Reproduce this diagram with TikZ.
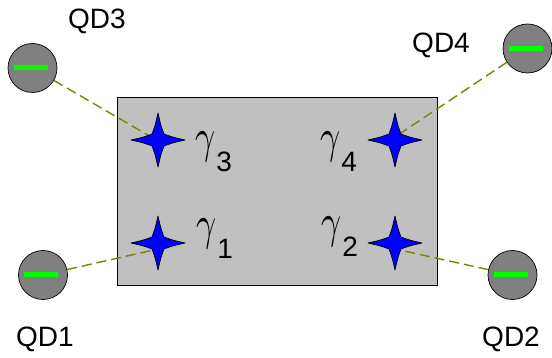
\documentclass[tikz,border=0pt]{standalone}
\usepackage{fontspec}
\setmainfont{Liberation Sans}
\definecolor{rectgray}{RGB}{192,192,192}
\definecolor{qdgray}{RGB}{128,128,128}
\definecolor{bargreen}{RGB}{0,255,0}
\definecolor{olive}{RGB}{128,128,0}
\definecolor{starblue}{RGB}{0,0,255}
\tikzset{
  qd/.style={circle, draw=black, fill=qdgray, minimum size=49pt, inner sep=0pt, line width=0.7pt,
    path picture={\fill[bargreen] ([xshift=-19pt,yshift=-2.5pt]path picture bounding box.center) rectangle ([xshift=15pt,yshift=2.5pt]path picture bounding box.center);}},
  qdlabel/.style={font=\fontsize{28}{30}\selectfont, inner sep=0pt, anchor=base},
  gamlabel/.style={inner sep=0pt, anchor=base west},
  link/.style={draw=olive, line width=1.4pt, dash pattern=on 10pt off 5pt},
  box/.style={draw=black, fill=rectgray, line width=0.7pt},
  star4/.pic={\filldraw[fill=starblue, draw=black, line width=0.7pt, line join=round]
    (27,0) .. controls (14,3) .. (6,6) .. controls (3,14) .. (0,27)
    .. controls (-3,14) .. (-6,6) .. controls (-14,3) .. (-27,0)
    .. controls (-14,-3) .. (-6,-6) .. controls (-3,-14) .. (0,-27)
    .. controls (3,-14) .. (6,-6) .. controls (14,-3) .. cycle;}
}
\newcommand{\gamtxt}[1]{\scalebox{3.5}[4.8]{$\gamma$}\hspace{1pt}\raisebox{-19pt}{\fontsize{28}{28}\selectfont #1}}
\begin{document}
\begin{tikzpicture}[x=1pt,y=-1pt]
\useasboundingbox (0,0) rectangle (552,358);
% substrate
\path[box] (117,97) rectangle (437,285);
% quantum dots
\node[qd] (c3) at (32.5,68) {};
\node[qd] (c4) at (527.5,48.5) {};
\node[qd] (c1) at (43,275) {};
\node[qd] (c2) at (512.5,275) {};
% star centres and link targets
\coordinate (s3) at (158,140);
\coordinate (s4) at (395,140);
\coordinate (s1) at (158,243);
\coordinate (s2) at (395,243);
\coordinate (t3) at (158,141);
\coordinate (t4) at (395,137);
\coordinate (t1) at (158,249);
\coordinate (t2) at (395,249);
% links
\draw[link] (c3) -- (t3);
\draw[link] (c4) -- (t4);
\draw[link] (c1) -- (t1);
\draw[link] (c2) -- (t2);
% emitters
\pic at (s3) {star4};
\pic at (s4) {star4};
\pic at (s1) {star4};
\pic at (s2) {star4};
% labels
\node[gamlabel] (g3) at (195,153) {\gamtxt{3}};
\node[gamlabel] (g4) at (320,153) {\gamtxt{4}};
\node[gamlabel] (g1) at (196,240) {\gamtxt{1}};
\node[gamlabel] (g2) at (321,238) {\gamtxt{2}};
\node[qdlabel] (l3) at (97,29) {QD3};
\node[qdlabel] (l4) at (441,53) {QD4};
\node[qdlabel] (l1) at (45,346.5) {QD1};
\node[qdlabel] (l2) at (511,347) {QD2};
\end{tikzpicture}
\end{document}
